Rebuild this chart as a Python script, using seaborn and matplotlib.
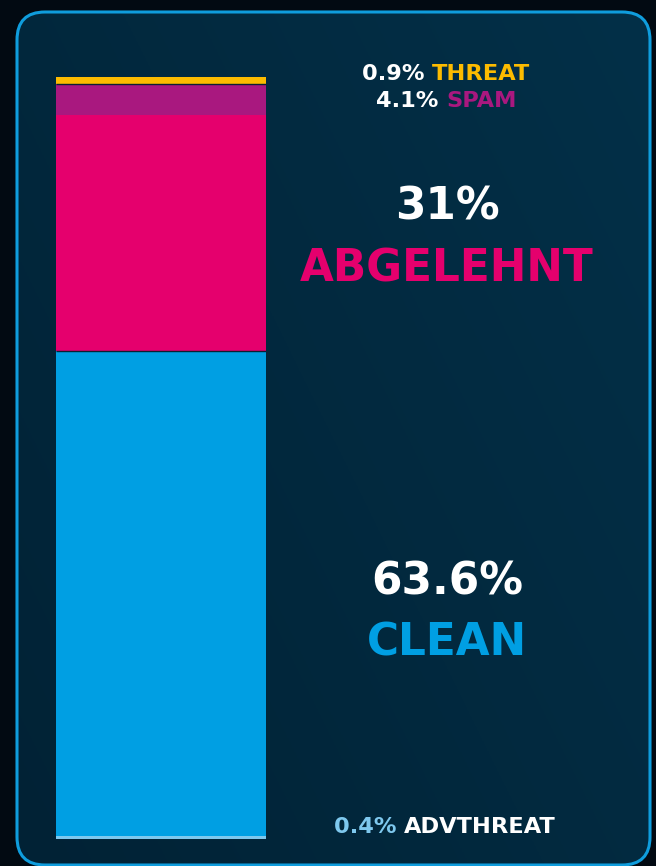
import numpy as np
import matplotlib
matplotlib.use("Agg")
import matplotlib.pyplot as plt
import seaborn as sns
import pandas as pd
from matplotlib.patches import FancyBboxPatch

# ---- data ----
categories = ["ADVTHREAT", "CLEAN", "ABGELEHNT", "SPAM", "THREAT"]
values = [0.4, 63.6, 31.0, 4.1, 0.9]
colors = ["#7ec8ee", "#009fe3", "#e5006d", "#a9187f", "#fcbb00"]

sns.set_theme(style="white")
plt.rcParams["font.family"] = ["DejaVu Sans"]

W, H = 656, 866
fig = plt.figure(figsize=(W / 100, H / 100), dpi=100)
fig.patch.set_facecolor("#020a12")

# background + frame
bg = fig.add_axes([0, 0, 1, 1])
bg.set_xlim(0, W)
bg.set_ylim(H, 0)
bg.axis("off")
frame = FancyBboxPatch((17, 12), 633, 853, boxstyle="round,pad=0,rounding_size=28",
                       facecolor="none", edgecolor="#0f9ddd", linewidth=2.2, zorder=3)
gx, gy = np.meshgrid(np.linspace(0, 1, 256), np.linspace(0, 1, 256))
g = 0.6 * gx + 0.4 * (1 - gy)
c0 = np.array([0x01, 0x22, 0x35]) / 255
c1 = np.array([0x03, 0x30, 0x48]) / 255
img = c0[None, None, :] * (1 - g[..., None]) + c1[None, None, :] * g[..., None]
im = bg.imshow(img, extent=[17, 650, 865, 12], aspect="auto", zorder=1)
bg.add_patch(frame)
clip = FancyBboxPatch((17, 12), 633, 853, boxstyle="round,pad=0,rounding_size=28",
                      transform=bg.transData, facecolor="none", edgecolor="none")
bg.add_patch(clip)
im.set_clip_path(clip)

# stacked bar
ax = fig.add_axes([56 / W, (H - 839) / H, 210 / W, 762 / H])
ax.set_facecolor("none")
cum = np.cumsum(values)
for i in range(len(categories) - 1, -1, -1):
    sns.barplot(x=["bar"], y=[cum[i]], color=colors[i], width=1.0, saturation=1,
                linewidth=0, ax=ax, zorder=2)
# thin separators
sep_color = "#0b1f33"
ax.hlines([cum[1], cum[3]], -0.5, 0.5, color=sep_color, linewidth=1.0, zorder=3)
ax.set_xlim(-0.5, 0.5)
ax.set_ylim(0, 100)
ax.axis("off")


def draw_line(ycen, parts, size, xc=447):
    texts = []
    widths = []
    r = fig.canvas.get_renderer()
    for t, c in parts:
        tx = bg.text(0, ycen, t, color=c, fontsize=size, fontweight="bold",
                     va="center", ha="left", zorder=5)
        texts.append(tx)
        bb = tx.get_window_extent(renderer=r)
        widths.append(bb.width)
    total = sum(widths)
    x = xc - total / 2
    for tx, w in zip(texts, widths):
        tx.set_x(x)
        x += w


fmt = lambda v: f"{v:g}%"
small = 16.2
draw_line(74, [(fmt(values[4]) + " ", "white"), (categories[4], colors[4])], small, xc=446)
draw_line(101, [(fmt(values[3]) + " ", "white"), (categories[3], colors[3])], small, xc=446)
big = 31.5
bg.text(447, 207, "31%", color="white", fontsize=big, fontweight="bold",
        ha="center", va="center", zorder=5)
bg.text(447, 269, categories[2], color=colors[2], fontsize=big, fontweight="bold",
        ha="center", va="center", zorder=5)
bg.text(447, 582, fmt(values[1]), color="white", fontsize=big, fontweight="bold",
        ha="center", va="center", zorder=5)
bg.text(447, 643, categories[1], color=colors[1], fontsize=big, fontweight="bold",
        ha="center", va="center", zorder=5)
draw_line(827, [(fmt(values[0]) + " ", colors[0]), (categories[0], "white")], small, xc=445)

fig.savefig("out.png", dpi=100, facecolor=fig.get_facecolor())
